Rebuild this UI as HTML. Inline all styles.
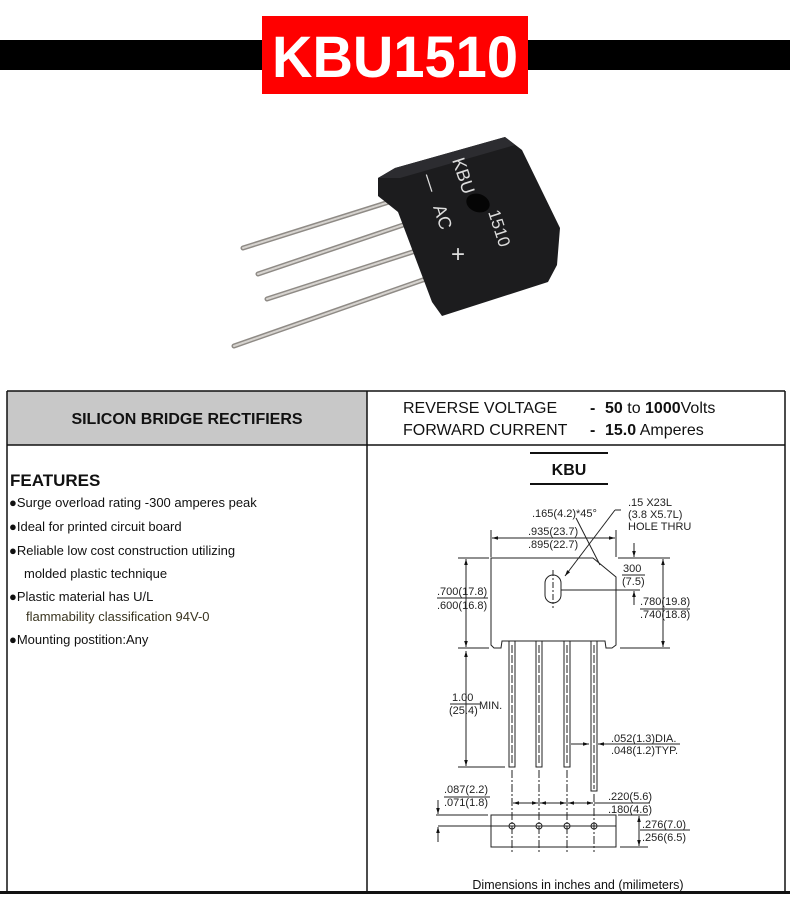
<!DOCTYPE html>
<html><head><meta charset="utf-8"><style>
html,body{margin:0;padding:0;background:#fff;width:790px;height:906px;overflow:hidden}
svg{display:block}
text{font-family:"Liberation Sans",Arial,sans-serif;fill:#111}
.d{font-size:11px;fill:#222}
</style></head><body>
<svg width="790" height="906" viewBox="0 0 790 906" xmlns="http://www.w3.org/2000/svg">
<defs>
<marker id="a" viewBox="0 0 10 10" refX="10" refY="5" markerWidth="6" markerHeight="6" orient="auto-start-reverse"><path d="M0,2 L10,5 L0,8 z" fill="#111"/></marker>
</defs>
<!-- header -->
<rect x="0" y="40" width="790" height="30" fill="#000"/>
<rect x="262" y="16" width="266" height="78" fill="#f00"/>
<text x="395" y="77" text-anchor="middle" style="font-size:58px;font-weight:bold;fill:#fff" textLength="246" lengthAdjust="spacingAndGlyphs">KBU1510</text>

<!-- photo -->
<g stroke-linecap="round">
<line x1="405" y1="197" x2="243" y2="248" stroke="#8f8b86" stroke-width="5"/>
<line x1="405" y1="197" x2="243" y2="248" stroke="#d6d3cf" stroke-width="2"/>
<line x1="415" y1="221" x2="258" y2="274" stroke="#8f8b86" stroke-width="5"/>
<line x1="415" y1="221" x2="258" y2="274" stroke="#d6d3cf" stroke-width="2"/>
<line x1="428" y1="247" x2="267" y2="299" stroke="#8f8b86" stroke-width="5"/>
<line x1="428" y1="247" x2="267" y2="299" stroke="#d6d3cf" stroke-width="2"/>
<line x1="440" y1="274" x2="234" y2="346" stroke="#8f8b86" stroke-width="5"/>
<line x1="440" y1="274" x2="234" y2="346" stroke="#d6d3cf" stroke-width="2"/>
</g>
<path d="M378,178 L395,168 L505,137 L522,150 L560,228 L557,265 L548,282 L442,316 L432,302 L398,212 L378,196 Z" fill="#1c1c1e"/>
<path d="M378,178 L395,168 L505,137 L515,145 L400,178 Z" fill="#2c2c30"/>
<ellipse cx="478" cy="203" rx="12" ry="9" transform="rotate(20 478 203)" fill="#050505"/>
<text x="452" y="160" transform="rotate(72 452 160)" style="fill:#ddd;font-size:18px">KBU</text>
<text x="488" y="212" transform="rotate(72 488 212)" style="fill:#ddd;font-size:17px">1510</text>
<text x="433" y="207" transform="rotate(72 433 207)" style="fill:#ddd;font-size:18px">AC</text>
<text x="422" y="176" transform="rotate(72 422 176)" style="fill:#ddd;font-size:18px">—</text>
<text x="451" y="262" style="fill:#ddd;font-size:24px">+</text>

<!-- table -->
<rect x="7" y="391" width="360" height="54" fill="#c8c8c8"/>
<g stroke="#111" stroke-width="1.5" fill="none">
<line x1="7" y1="391" x2="785" y2="391"/>
<line x1="7" y1="445" x2="785" y2="445"/>
<line x1="7" y1="391" x2="7" y2="893"/>
<line x1="785" y1="391" x2="785" y2="893"/>
<line x1="367" y1="391" x2="367" y2="893"/>
</g>
<rect x="0" y="891" width="790" height="3" fill="#111"/>
<text x="187" y="424" text-anchor="middle" style="font-size:16px;font-weight:bold">SILICON BRIDGE RECTIFIERS</text>
<text x="403" y="413" style="font-size:16px">REVERSE VOLTAGE</text>
<text x="590" y="413" style="font-size:16px;font-weight:bold">-</text>
<text x="605" y="413" style="font-size:16px"><tspan font-weight="bold">50</tspan> to <tspan font-weight="bold">1000</tspan>Volts</text>
<text x="403" y="435" style="font-size:16px">FORWARD CURRENT</text>
<text x="590" y="435" style="font-size:16px;font-weight:bold">-</text>
<text x="605" y="435" style="font-size:16px"><tspan font-weight="bold">15.0</tspan> Amperes</text>

<text x="10" y="486" style="font-size:17px;font-weight:bold">FEATURES</text>
<text x="9" y="507" style="font-size:13px">●Surge overload rating -300 amperes peak</text>
<text x="9" y="531" style="font-size:13px">●Ideal for printed circuit board</text>
<text x="9" y="555" style="font-size:13px">●Reliable low cost construction utilizing</text>
<text x="24" y="578" style="font-size:13px">molded plastic technique</text>
<text x="9" y="601" style="font-size:13px">●Plastic material has U/L</text>
<text x="26" y="621" style="font-size:13px;fill:#3a3520">flammability classification 94V-0</text>
<text x="9" y="644" style="font-size:13px">●Mounting postition:Any</text>

<!-- drawing -->
<line x1="530" y1="453" x2="608" y2="453" stroke="#111" stroke-width="2"/>
<line x1="530" y1="484" x2="608" y2="484" stroke="#111" stroke-width="2"/>
<text x="569" y="475" text-anchor="middle" style="font-size:16px;font-weight:bold">KBU</text>

<g stroke="#222" stroke-width="1" fill="none">
<path d="M491,558 L593,558 L616,577 L616,645 L612,648 L606,648 L605,641 L502,641 L501,648 L494,648 L491,645 Z"/>
<rect x="545" y="575" width="16" height="28" rx="8"/>
<line x1="553" y1="570" x2="553" y2="608" stroke-dasharray="6,2,2,2"/>
<line x1="561" y1="590" x2="640" y2="590"/>
<rect x="509" y="641" width="6" height="126"/>
<rect x="536" y="641" width="6" height="126"/>
<rect x="564" y="641" width="6" height="126"/>
<rect x="591" y="641" width="6" height="150"/>
<line x1="512" y1="645" x2="512" y2="765" stroke-dasharray="8,2"/>
<line x1="539" y1="645" x2="539" y2="765" stroke-dasharray="8,2"/>
<line x1="567" y1="645" x2="567" y2="765" stroke-dasharray="8,2"/>
<line x1="594" y1="645" x2="594" y2="789" stroke-dasharray="8,2"/>
<line x1="491" y1="530" x2="491" y2="557"/>
<line x1="616" y1="530" x2="616" y2="557"/>
<line x1="492" y1="538" x2="615" y2="538" marker-start="url(#a)" marker-end="url(#a)"/>
<line x1="458" y1="558" x2="489" y2="558"/>
<line x1="458" y1="648" x2="489" y2="648"/>
<line x1="466" y1="559" x2="466" y2="647" marker-start="url(#a)" marker-end="url(#a)"/>
<line x1="437" y1="598" x2="488" y2="598"/>
<line x1="618" y1="558" x2="670" y2="558"/>
<line x1="620" y1="648" x2="670" y2="648"/>
<line x1="663" y1="559" x2="663" y2="647" marker-start="url(#a)" marker-end="url(#a)"/>
<line x1="634" y1="543" x2="634" y2="557" marker-end="url(#a)"/>
<line x1="634" y1="605" x2="634" y2="591" marker-end="url(#a)"/>
<line x1="622" y1="575" x2="645" y2="575"/>
<line x1="640" y1="609" x2="690" y2="609"/>
<line x1="621" y1="510" x2="615" y2="510"/>
<line x1="615" y1="510" x2="565" y2="576" marker-end="url(#a)"/>
<path d="M576,518 L600,565"/>
<line x1="458" y1="767" x2="505" y2="767"/>
<line x1="466" y1="651" x2="466" y2="766" marker-start="url(#a)" marker-end="url(#a)"/>
<line x1="450" y1="704" x2="480" y2="704"/>
<line x1="571" y1="744" x2="589" y2="744" marker-end="url(#a)"/>
<line x1="615" y1="744" x2="598" y2="744" marker-end="url(#a)"/>
<line x1="612" y1="744" x2="680" y2="744"/>
<rect x="491" y="815" width="125" height="32"/>
<line x1="438" y1="826" x2="616" y2="826"/>
<circle cx="512" cy="826" r="3"/><circle cx="539" cy="826" r="3"/><circle cx="567" cy="826" r="3"/><circle cx="594" cy="826" r="3"/>
<line x1="512" y1="770" x2="512" y2="852" stroke-dasharray="8,2,2,2"/>
<line x1="539" y1="770" x2="539" y2="852" stroke-dasharray="8,2,2,2"/>
<line x1="567" y1="770" x2="567" y2="852" stroke-dasharray="8,2,2,2"/>
<line x1="594" y1="794" x2="594" y2="852" stroke-dasharray="8,2,2,2"/>
<line x1="513" y1="803" x2="538" y2="803" marker-start="url(#a)" marker-end="url(#a)"/>
<line x1="540" y1="803" x2="566" y2="803" marker-start="url(#a)" marker-end="url(#a)"/>
<line x1="568" y1="803" x2="593" y2="803" marker-start="url(#a)" marker-end="url(#a)"/>
<line x1="594" y1="803" x2="650" y2="803"/>
<line x1="436" y1="815" x2="488" y2="815"/>
<line x1="438" y1="800" x2="438" y2="814" marker-end="url(#a)"/>
<line x1="438" y1="842" x2="438" y2="827" marker-end="url(#a)"/>
<line x1="444" y1="797" x2="490" y2="797"/>
<line x1="618" y1="815" x2="648" y2="815"/>
<line x1="620" y1="847" x2="648" y2="847"/>
<line x1="639" y1="816" x2="639" y2="846" marker-start="url(#a)" marker-end="url(#a)"/>
<line x1="640" y1="830" x2="690" y2="830"/>
</g>

<text class="d" x="532" y="517">.165(4.2)*45°</text>
<text class="d" x="628" y="506">.15    X23L</text>
<text class="d" x="628" y="518">(3.8   X5.7L)</text>
<text class="d" x="628" y="530">HOLE THRU</text>
<text class="d" x="528" y="535">.935(23.7)</text>
<text class="d" x="528" y="548">.895(22.7)</text>
<text class="d" x="623" y="572">300</text>
<text class="d" x="622" y="585">(7.5)</text>
<text class="d" x="437" y="595">.700(17.8)</text>
<text class="d" x="437" y="609">.600(16.8)</text>
<text class="d" x="640" y="605">.780(19.8)</text>
<text class="d" x="640" y="618">.740(18.8)</text>
<text class="d" x="452" y="701">1.00</text>
<text class="d" x="449" y="714">(25.4)</text>
<text class="d" x="479" y="709">MIN.</text>
<text class="d" x="611" y="742">.052(1.3)DIA.</text>
<text class="d" x="611" y="754">.048(1.2)TYP.</text>
<text class="d" x="444" y="793">.087(2.2)</text>
<text class="d" x="444" y="806">.071(1.8)</text>
<text class="d" x="608" y="800">.220(5.6)</text>
<text class="d" x="608" y="813">.180(4.6)</text>
<text class="d" x="642" y="828">.276(7.0)</text>
<text class="d" x="642" y="841">.256(6.5)</text>
<text x="578" y="889" text-anchor="middle" style="font-size:12.5px">Dimensions in inches and (milimeters)</text>
</svg>
</body></html>
